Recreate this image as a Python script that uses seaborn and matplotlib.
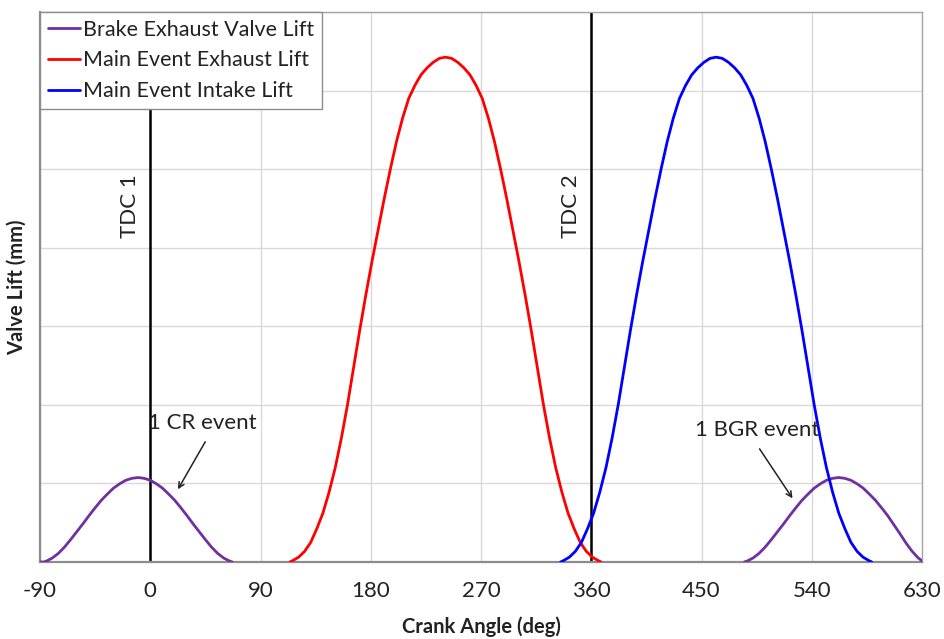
import matplotlib
matplotlib.use("Agg")
import matplotlib.pyplot as plt
import seaborn as sns
import pandas as pd

# Brake exhaust valve lift: compression-release (CR) event around TDC 1
brake_cr_angle = [-90, -87, -85, -80, -75, -70, -65, -60, -55, -50, -45, -40, -35, -30, -25, -20, -15,
                  -10, -5, 0, 5, 10, 15, 20, 25, 30, 35, 40, 45, 50, 55, 60, 65, 67]
brake_cr_lift = [0.0, 0.0, 0.02, 0.1, 0.22, 0.38, 0.57, 0.77, 0.97, 1.18, 1.38, 1.57, 1.73, 1.88, 1.99, 2.08, 2.13,
                 2.15, 2.13, 2.08, 1.99, 1.88, 1.73, 1.57, 1.38, 1.18, 0.97, 0.77, 0.57, 0.38, 0.22, 0.1, 0.02, 0.0]

# Brake exhaust valve lift: brake gas recirculation (BGR) event
brake_bgr_angle = [485, 487, 492, 497, 502, 507, 512, 517, 522, 527, 532, 537, 542, 547, 552, 557,
                   562, 567, 572, 577, 582, 587, 592, 597, 602, 607, 612, 617, 622, 627, 630]
brake_bgr_lift = [0.0, 0.02, 0.1, 0.22, 0.38, 0.57, 0.77, 0.97, 1.18, 1.38, 1.57, 1.73, 1.88, 1.99, 2.08, 2.13,
                  2.15, 2.13, 2.08, 1.99, 1.88, 1.73, 1.57, 1.38, 1.18, 0.95, 0.72, 0.48, 0.27, 0.1, 0.03]

# Main event exhaust valve lift
exhaust_angle = [114, 116, 121, 126, 131, 136, 141, 146, 151, 156, 161, 166, 171, 176, 181, 186, 191, 196,
                 201, 206, 211, 216, 221, 226, 231, 236, 241, 246, 251, 256, 261, 266, 271, 276, 281, 286,
                 291, 296, 301, 306, 311, 316, 321, 326, 331, 336, 341, 346, 351, 356, 361, 366, 368]
exhaust_lift = [0.0, 0.03, 0.12, 0.27, 0.5, 0.85, 1.25, 1.78, 2.4, 3.15, 4.0, 4.95, 5.9, 6.8, 7.65, 8.45, 9.25, 10.0,
                10.7, 11.3, 11.8, 12.13, 12.4, 12.58, 12.72, 12.82, 12.85, 12.82, 12.72, 12.58, 12.4, 12.13, 11.8,
                11.3, 10.7, 10.0, 9.25, 8.45, 7.65, 6.8, 5.9, 4.95, 4.0, 3.15, 2.4, 1.78, 1.25, 0.85, 0.5, 0.27,
                0.12, 0.03, 0.0]

# Main event intake valve lift
intake_angle = [335, 337, 342, 347, 352, 357, 362, 367, 372, 377, 382, 387, 392, 397, 402, 407, 412, 417,
                422, 427, 432, 437, 442, 447, 452, 457, 462, 467, 472, 477, 482, 487, 492, 497, 502, 507,
                512, 517, 522, 527, 532, 537, 542, 547, 552, 557, 562, 567, 572, 577, 582, 587, 589]
intake_lift = [0.0, 0.03, 0.12, 0.27, 0.5, 0.85, 1.25, 1.78, 2.4, 3.15, 4.0, 4.95, 5.9, 6.8, 7.65, 8.45, 9.25, 10.0,
               10.7, 11.3, 11.8, 12.13, 12.4, 12.58, 12.72, 12.82, 12.85, 12.82, 12.72, 12.58, 12.4, 12.13, 11.8,
               11.3, 10.7, 10.0, 9.25, 8.45, 7.65, 6.8, 5.9, 4.95, 4.0, 3.15, 2.4, 1.78, 1.25, 0.85, 0.5, 0.27,
               0.12, 0.03, 0.0]

series_names = ["Brake Exhaust Valve Lift", "Main Event Exhaust Lift", "Main Event Intake Lift"]
series_colors = ["#7030A0", "#FF0000", "#0000FF"]
x_ticks = [-90, 0, 90, 180, 270, 360, 450, 540, 630]
tdc_angles = [0, 360]
tdc_labels = ["TDC 1", "TDC 2"]

frames = [
    pd.DataFrame({"angle": brake_cr_angle, "lift": brake_cr_lift, "series": series_names[0], "segment": "cr"}),
    pd.DataFrame({"angle": brake_bgr_angle, "lift": brake_bgr_lift, "series": series_names[0], "segment": "bgr"}),
    pd.DataFrame({"angle": exhaust_angle, "lift": exhaust_lift, "series": series_names[1], "segment": "exh"}),
    pd.DataFrame({"angle": intake_angle, "lift": intake_lift, "series": series_names[2], "segment": "int"}),
]
df = pd.concat(frames, ignore_index=True)

sns.set_style("white")
plt.rcParams["font.family"] = ["Lato", "DejaVu Sans"]

fig = plt.figure(figsize=(9.44, 6.39), dpi=100)
ax = fig.add_axes([40 / 944, 1 - 562 / 639, (922 - 40) / 944, (562 - 12) / 639])

sns.lineplot(data=df, x="angle", y="lift", hue="series", units="segment", estimator=None,
             sort=False, hue_order=series_names, palette=dict(zip(series_names, series_colors)),
             linewidth=2.0, ax=ax, zorder=3)

# TDC markers
for a, lab in zip(tdc_angles, tdc_labels):
    ax.axvline(a, color="black", lw=1.8, zorder=2)
    ax.text(a - 16.5, 9.05, lab, rotation=90, ha="center", va="center",
            fontsize=16, color="#222222")

ax.set_xlim(-90, 630)
ax.set_ylim(0, 14)
ax.set_xticks(x_ticks)
ax.set_xticklabels([str(t) for t in x_ticks])
ax.set_yticks(range(0, 15, 2))
ax.set_yticklabels([])
ax.grid(True, color="#d9d9d9", lw=1.0, zorder=0)
ax.set_axisbelow(True)
ax.tick_params(axis="x", direction="out", length=5, width=1, color="#a6a6a6",
               labelsize=16, pad=9, labelcolor="#222222")
ax.tick_params(axis="y", length=0)
for s in ax.spines.values():
    s.set_color("#a6a6a6")
    s.set_linewidth(1.0)
for side in ("left", "bottom"):
    ax.spines[side].set_color("#8c8c8c")
    ax.spines[side].set_linewidth(1.6)

ax.set_xlabel("Crank Angle (deg)", fontsize=14.5, fontweight="bold", color="#222222", labelpad=11)
ax.set_ylabel("Valve Lift (mm)", fontsize=14.5, fontweight="bold", color="#222222", labelpad=6)

# Event callouts
ax.text(-1.6, 3.54, "1 CR event", fontsize=16, color="#222222", ha="left", va="center")
ax.annotate("", xy=(22.6, 1.85), xytext=(44.9, 3.06),
            arrowprops=dict(arrowstyle="->", color="#222222", lw=1.1, shrinkA=0, shrinkB=0))
ax.text(444.9, 3.36, "1 BGR event", fontsize=16, color="#222222", ha="left", va="center")
ax.annotate("", xy=(524.3, 1.62), xytext=(497.4, 2.88),
            arrowprops=dict(arrowstyle="->", color="#222222", lw=1.1, shrinkA=0, shrinkB=0))

leg = ax.legend(loc="upper left", bbox_to_anchor=(0, 1), borderaxespad=0, fontsize=15.5,
                handlelength=1.5, handletextpad=0.15, labelspacing=0.5, borderpad=0.35,
                frameon=True, fancybox=False, title=None, labelcolor="#222222")
leg.get_frame().set_edgecolor("#8c8c8c")
leg.get_frame().set_linewidth(1.0)
leg.get_frame().set_alpha(1)
leg.set_zorder(5)

fig.savefig("out.png", dpi=100)
